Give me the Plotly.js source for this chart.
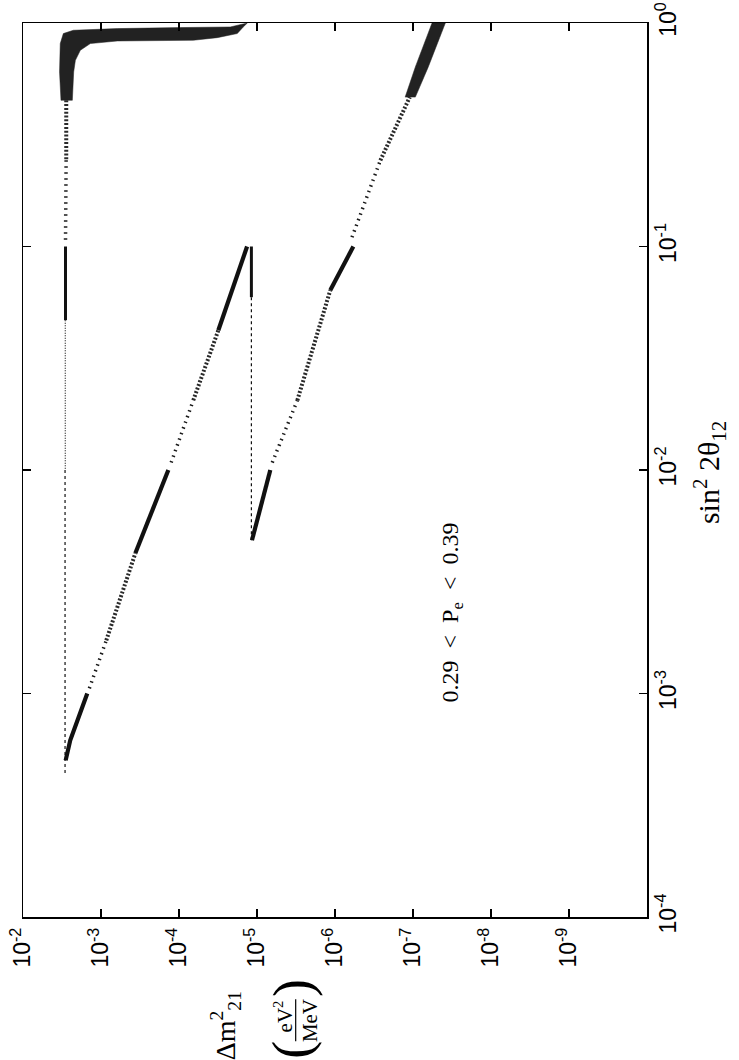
<!DOCTYPE html>
<html>
<head>
<meta charset="utf-8">
<script src="https://cdn.plot.ly/plotly-3.0.1.min.js"></script>
<style>html,body{margin:0;padding:0;background:#fff;}#chart{width:739px;height:1060px;}</style>
</head>
<body>
<div id="chart"></div>
<script>
// Axis ticks
const dmTickVals = [1e-2, 1e-3, 1e-4, 1e-5, 1e-6, 1e-7, 1e-8, 1e-9];
const dmTickText = ['10<sup>-2</sup>','10<sup>-3</sup>','10<sup>-4</sup>','10<sup>-5</sup>','10<sup>-6</sup>','10<sup>-7</sup>','10<sup>-8</sup>','10<sup>-9</sup>'];
const sinTickVals = [1e-4, 1e-3, 1e-2, 1e-1, 1];
const sinTickText = ['10<sup>-4</sup>','10<sup>-3</sup>','10<sup>-2</sup>','10<sup>-1</sup>','10<sup>0</sup>'];

// Allowed region (Δm²21 in eV²/MeV, sin²2θ12)
// Large-angle blob near sin²2θ ≈ 1
const blobA_dm2 = [1.33e-5, 2.20e-5, 9.62e-5, 6.18e-4, 2.26e-3, 3.04e-3, 3.33e-3, 3.40e-3, 3.26e-3, 2.33e-3, 2.24e-3, 2.13e-3, 1.84e-3, 1.37e-3, 6.18e-4, 6.56e-5, 3.23e-5, 1.79e-5, 1.50e-5, 1.33e-5];
const blobA_sin = [1.0, 0.960, 0.954, 0.944, 0.928, 0.897, 0.809, 0.604, 0.451, 0.451, 0.604, 0.681, 0.755, 0.809, 0.831, 0.837, 0.860, 0.897, 0.960, 1.0];
// Upper end of the low-Δm² band
const blobB_dm2 = [3.85e-8, 6.37e-8, 9.33e-8, 1.26e-7, 9.33e-8, 5.70e-8, 3.85e-8];
const blobB_sin = [1.0, 0.636, 0.466, 0.466, 0.636, 1.0, 1.0];

// Densely filled stretches of the diagonal bands
const dense_dm2 = [2.84e-3, 2.48e-3, 1.50e-3, null, 3.63e-4, 1.37e-4, null, 3.13e-5, 1.34e-5, null, 1.16e-5, 6.75e-6, null, 1.15e-6, 5.82e-7];
const dense_sin = [5.02e-4, 6.17e-4, 1.0e-3, null, 4.24e-3, 1.0e-2, null, 4.22e-2, 0.1, null, 4.85e-3, 1.0e-2, null, 6.37e-2, 0.1];
// Medium-density stretches
const medium_dm2 = [8.55e-4, 3.63e-4, null, 6.56e-5, 3.13e-5, null, 3.04e-6, 1.15e-6, null, 2.62e-7, 1.10e-7, null, 2.79e-3, 2.79e-3];
const medium_sin = [1.73e-3, 4.24e-3, null, 2.05e-2, 4.22e-2, null, 2.05e-2, 6.37e-2, null, 0.243, 0.466, null, 0.451, 0.243];
// Sparse stretches
const sparse_dm2 = [1.41e-3, 8.55e-4, null, 1.26e-4, 6.56e-5, null, 6.37e-6, 3.04e-6, null, 6.05e-7, 2.62e-7, null, 2.80e-3, 2.85e-3];
const sparse_sin = [1.055e-3, 1.73e-3, null, 1.08e-2, 2.05e-2, null, 1.08e-2, 2.05e-2, null, 0.11, 0.243, null, 0.243, 0.107];
// Short solid vertical stretches just below sin²2θ = 0.1
const vsolid_dm2 = [2.85e-3, 2.85e-3, null, 1.18e-5, 1.18e-5];
const vsolid_sin = [0.1, 0.0468, null, 0.1, 5.93e-2];
// Finely dotted vertical stretch
const vfine_dm2 = [2.87e-3, 2.87e-3];
const vfine_sin = [0.0468, 1.0e-2];
// Dashed vertical stretches
const vdash_dm2 = [2.89e-3, 2.89e-3, null, 1.18e-5, 1.18e-5];
const vdash_sin = [1.0e-2, 4.31e-4, null, 5.93e-2, 4.75e-3];

const ink = '#111111';
const traces = [
  {x: blobA_dm2, y: blobA_sin, mode: 'lines', fill: 'toself', fillcolor: '#222', line: {color: '#222', width: 0.5}},
  {x: blobB_dm2, y: blobB_sin, mode: 'lines', fill: 'toself', fillcolor: '#222', line: {color: '#222', width: 0.5}},
  {x: dense_dm2, y: dense_sin, mode: 'lines', line: {color: ink, width: 4.2}},
  {x: medium_dm2, y: medium_sin, mode: 'lines', line: {color: '#2a2a2a', width: 4, dash: '2px,1.8px'}},
  {x: sparse_dm2, y: sparse_sin, mode: 'lines', line: {color: '#1a1a1a', width: 3.5, dash: '1.5px,4.5px'}},
  {x: vsolid_dm2, y: vsolid_sin, mode: 'lines', line: {color: ink, width: 3}},
  {x: vfine_dm2, y: vfine_sin, mode: 'lines', line: {color: '#222', width: 1.2, dash: '1px,1.5px'}},
  {x: vdash_dm2, y: vdash_sin, mode: 'lines', line: {color: '#111', width: 1.2, dash: '3px,3px'}}
].map(t => Object.assign({type: 'scatter', hoverinfo: 'skip', showlegend: false}, t));

const tickFont = {family: 'Liberation Sans, Arial, sans-serif', size: 23, color: '#000'};
const serif = 'Liberation Serif, Times New Roman, serif';
const axisCommon = {
  type: 'log', autorange: false, tickmode: 'array',
  ticks: 'inside', ticklen: 8, tickwidth: 1.2, tickcolor: '#000',
  showline: true, linecolor: '#000', linewidth: 1.5, mirror: 'ticks',
  showgrid: false, zeroline: false, tickangle: -90, tickfont: tickFont
};

const layout = {
  width: 739, height: 1060,
  margin: {l: 23, r: 92, t: 23, b: 143, pad: 0},
  paper_bgcolor: '#fff', plot_bgcolor: '#fff',
  showlegend: false,
  xaxis: Object.assign({}, axisCommon, {range: [-2, -10], tickvals: dmTickVals, ticktext: dmTickText}),
  yaxis: Object.assign({}, axisCommon, {range: [-4, 0], side: 'right', tickvals: sinTickVals, ticktext: sinTickText}),
  annotations: [
    {xref: 'paper', yref: 'paper', x: 0.688, y: 0.341, text: '0.29\u2002<\u2002P<sub>e</sub>\u2002<\u20020.39', textangle: -90, showarrow: false, xanchor: 'center', yanchor: 'middle', font: {family: serif, size: 24, color: '#000'}},
    {xref: 'paper', yref: 'paper', x: 1.1, y: 0.497, text: 'sin<sup>2</sup> 2θ<sub>12</sub>', textangle: -90, showarrow: false, xanchor: 'center', yanchor: 'middle', font: {family: serif, size: 30, color: '#000'}},
    {xref: 'paper', yref: 'paper', x: 0.324, y: -0.122, text: 'Δm<sup>2</sup><sub>21</sub>', textangle: -90, showarrow: false, xanchor: 'center', yanchor: 'middle', font: {family: serif, size: 28, color: '#000'}},
    {xref: 'paper', yref: 'paper', x: 0.417, y: -0.111, text: 'eV<sup>2</sup>', textangle: -90, showarrow: false, xanchor: 'center', yanchor: 'middle', font: {family: serif, size: 21, color: '#000'}},
    {xref: 'paper', yref: 'paper', x: 0.459, y: -0.116, text: 'MeV', textangle: -90, showarrow: false, xanchor: 'center', yanchor: 'middle', font: {family: serif, size: 21, color: '#000'}},
    {xref: 'paper', yref: 'paper', x: 0.432, y: -0.149, text: '(', textangle: -90, showarrow: false, xanchor: 'center', yanchor: 'middle', font: {family: serif, size: 54, color: '#000'}},
    {xref: 'paper', yref: 'paper', x: 0.432, y: -0.080, text: ')', textangle: -90, showarrow: false, xanchor: 'center', yanchor: 'middle', font: {family: serif, size: 54, color: '#000'}}
  ],
  shapes: [
    {type: 'line', xref: 'paper', yref: 'paper', x0: 0.437, x1: 0.437, y0: -0.092, y1: -0.139, line: {color: '#000', width: 1.2}}
  ]
};

Plotly.newPlot('chart', traces, layout, {staticPlot: true, displayModeBar: false});
</script>
</body>
</html>
